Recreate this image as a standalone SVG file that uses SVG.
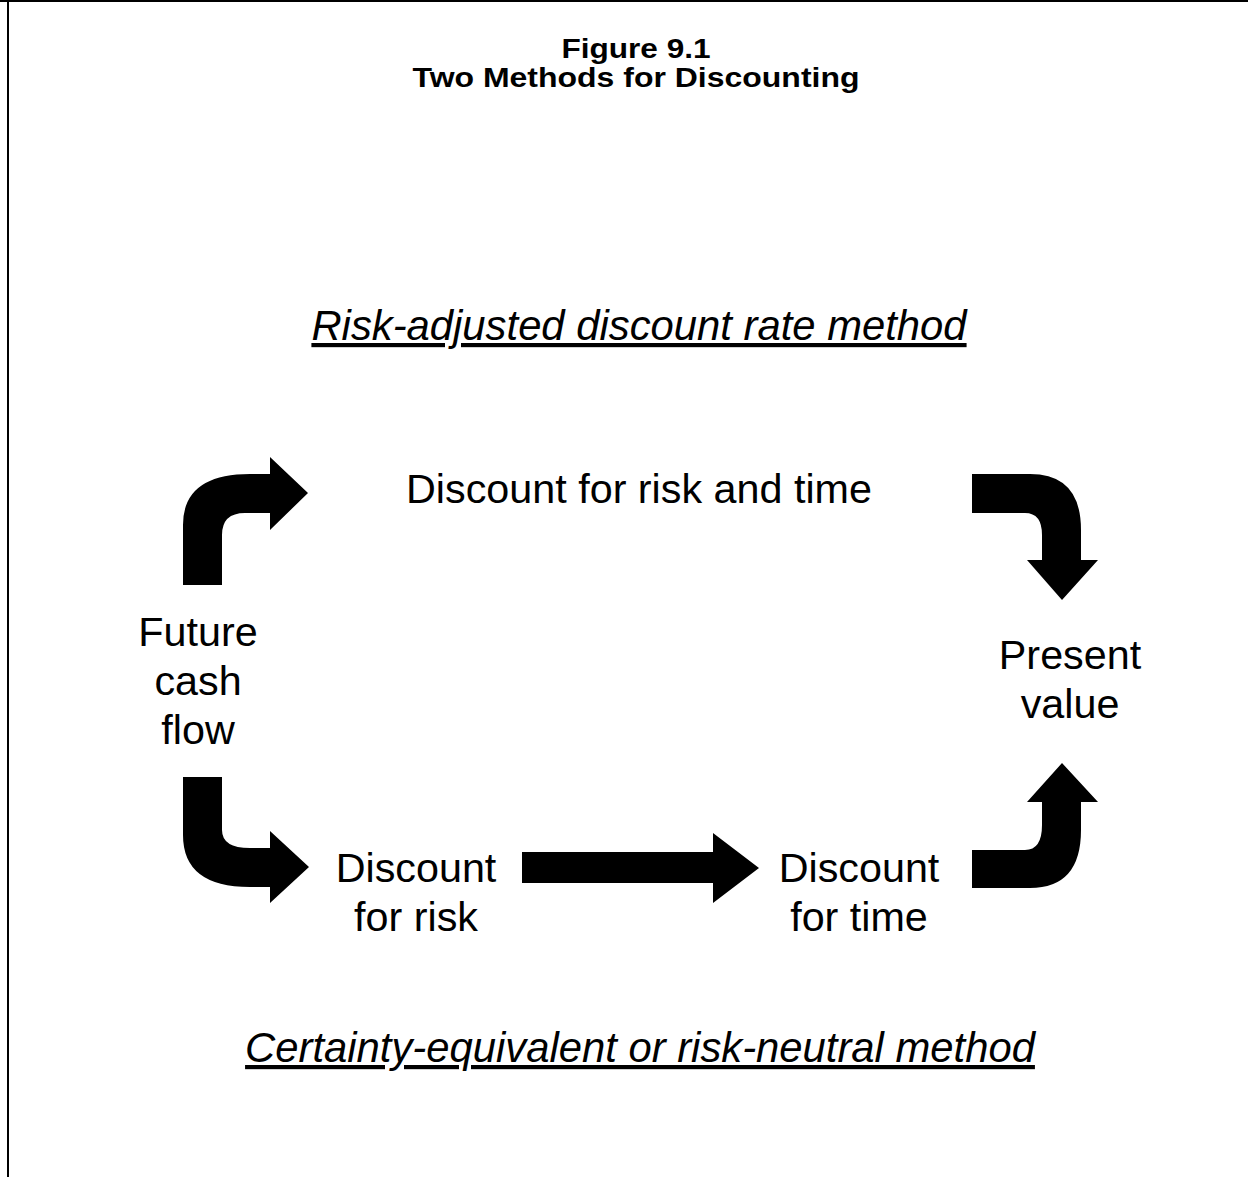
<svg xmlns="http://www.w3.org/2000/svg" width="1248" height="1177" viewBox="0 0 1248 1177">
<style>
.t{font-family:"Liberation Sans",Arial,sans-serif;fill:#000;text-anchor:middle}
.title{font-size:28px;font-weight:bold}
.lbl{font-size:41.3px}
.method{font-size:41.8px;font-style:italic;text-decoration:underline}
.arrow{fill:#000;stroke:none}
</style>
<rect width="1248" height="1177" fill="#fff"/>
<g id="frame" fill="none" stroke="#000" stroke-width="2">
<line x1="0" y1="1" x2="1248" y2="1"/>
<line x1="8" y1="0" x2="8" y2="1177"/>
</g>
<g id="title">
<text class="t title" x="636" y="58" textLength="149" lengthAdjust="spacingAndGlyphs">Figure 9.1</text>
<text class="t title" x="636" y="87" textLength="447" lengthAdjust="spacingAndGlyphs">Two Methods for Discounting</text>
</g>
<g id="method-top"><text class="t method" x="639" y="340">Risk-adjusted discount rate method</text></g>
<g id="method-bottom"><text class="t method" x="640" y="1062">Certainty-equivalent or risk-neutral method</text></g>
<g id="node-future"><text class="t lbl" x="198" y="646">Future</text><text class="t lbl" x="198" y="695">cash</text><text class="t lbl" x="198" y="744">flow</text></g>
<g id="node-risktime"><text class="t lbl" x="639" y="503">Discount for risk and time</text></g>
<g id="node-present"><text class="t lbl" x="1070" y="669">Present</text><text class="t lbl" x="1070" y="718">value</text></g>
<g id="node-risk"><text class="t lbl" x="416" y="882">Discount</text><text class="t lbl" x="416" y="931">for risk</text></g>
<g id="node-time"><text class="t lbl" x="859" y="882">Discount</text><text class="t lbl" x="859" y="931">for time</text></g>
<g id="connectors" class="arrow">
<path d="M183,585 L183,525 Q183,474 250,474 L270,474 L270,457 L308,493 L270,530 L270,513 L245,513 Q222,513 222,535 L222,585 Z"/>
<path d="M972,474 L1030,474 Q1081,474 1081,530 L1081,560 L1098,560 L1062,600 L1027,560 L1042,560 L1042,535 Q1042,513 1025,513 L972,513 Z"/>
<path d="M183,777 L222,777 L222,830 Q222,848 250,848 L270,848 L270,831 L309,867 L270,903 L270,887 L250,887 Q183,887 183,835 Z"/>
<path d="M972,850 L1025,850 Q1042,850 1042,825 L1042,802 L1027,802 L1062,763 L1098,802 L1081,802 L1081,830 Q1081,888 1030,888 L972,888 Z"/>
<path d="M522,852 L713,852 L713,833 L759,868 L713,903 L713,883 L522,883 Z"/>
</g>
</svg>
